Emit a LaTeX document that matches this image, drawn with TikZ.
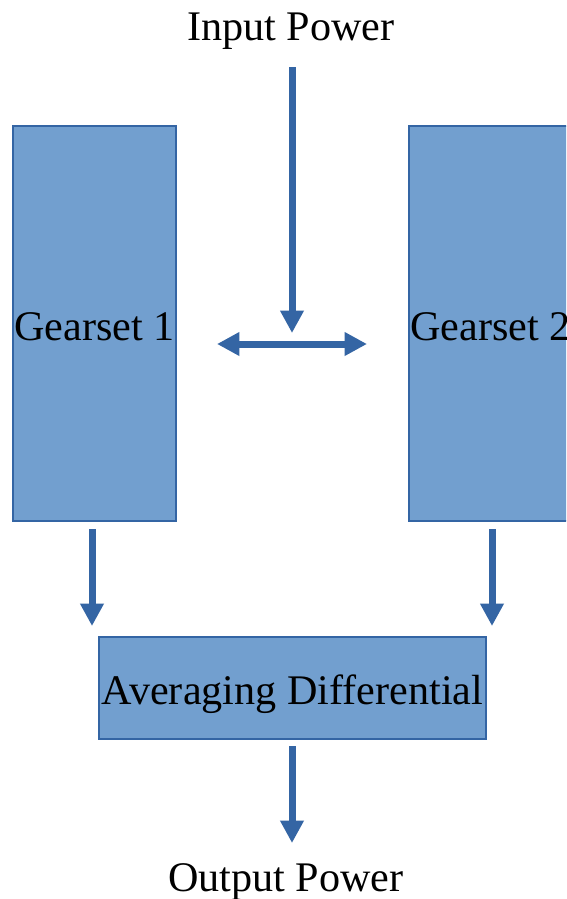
\documentclass[tikz,border=0pt]{standalone}
\usepackage{fontspec}
\setmainfont{Liberation Serif}
\usetikzlibrary{arrows.meta, positioning}
\definecolor{gearFill}{HTML}{729FCF}
\definecolor{gearLine}{HTML}{3465A4}

\begin{document}
\begin{tikzpicture}[
  x=0.02cm, y=-0.02cm,
  every node/.style={font=\fontsize{24}{28}\selectfont},
  gearbox/.style={rectangle, draw=gearLine, fill=gearFill, line width=0.8pt, inner sep=0pt, align=center, text height=19pt, text depth=0pt},
  flow/.style={-{Triangle[width=0.45cm, length=0.45cm]}, draw=gearLine, line width=0.14cm},
  dualflow/.style={{Triangle[width=0.45cm, length=0.45cm]}-{Triangle[width=0.45cm, length=0.45cm]}, draw=gearLine, line width=0.14cm},
]
\clip (0,0) rectangle (566,899);
\fill[white] (0,0) rectangle (566,899);

% === LABELS ===
\node (inpower) at (291,31) {Input Power};
\node (outpower) at (286,882) {Output Power};

% === GEARSETS ===
\node[gearbox, minimum width=3.26cm, minimum height=7.9cm] (gear1) at (94.5,323.5) {Gearset 1};
\node[gearbox, minimum width=3.26cm, minimum height=7.9cm] (gear2) at (490.5,323.5) {Gearset 2};

% === DIFFERENTIAL ===
\node[gearbox, minimum width=7.74cm, minimum height=2.04cm] (diff) at (292.5,688) {Averaging Differential};

% === ARROW ENDS ===
\coordinate (intop) at (292,67);
\coordinate (inbot) at (292,333);
\coordinate (splitl) at (217,344);
\coordinate (splitr) at (367,344);
\coordinate (g1top) at (92,529);
\coordinate (g1bot) at (92,626);
\coordinate (g2top) at (492,529);
\coordinate (g2bot) at (492,626);
\coordinate (outtop) at (292,746);
\coordinate (outbot) at (292,843);

% === ARROWS ===
\draw[flow] (intop) -- (inbot);
\draw[dualflow] (splitl) -- (splitr);
\draw[flow] (g1top) -- (g1bot);
\draw[flow] (g2top) -- (g2bot);
\draw[flow] (outtop) -- (outbot);

\end{tikzpicture}
\end{document}
